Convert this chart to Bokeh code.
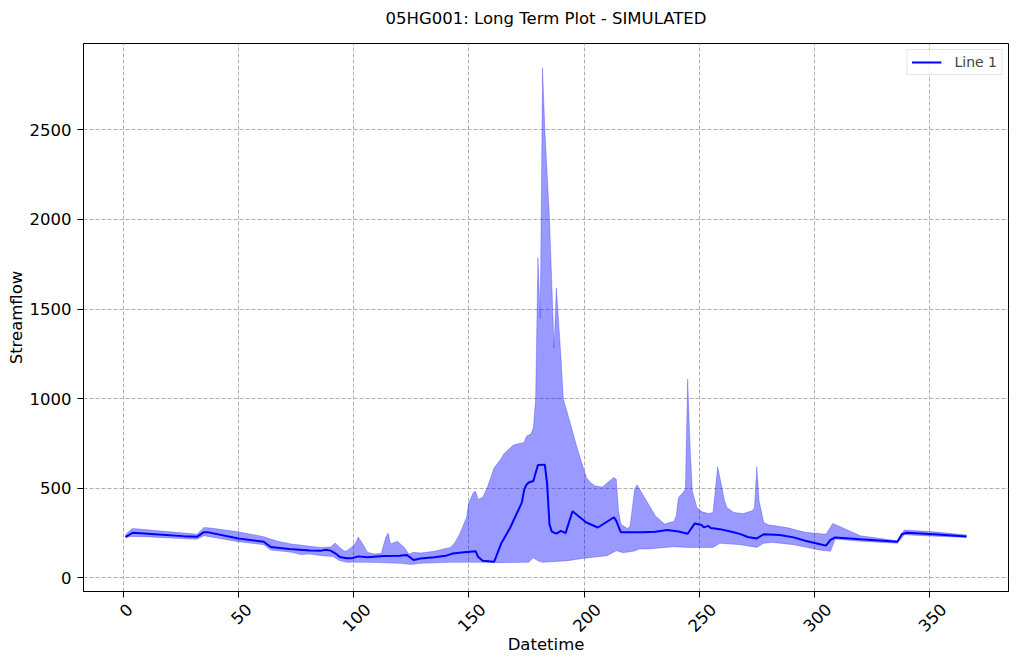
import math
from bokeh.plotting import figure
from bokeh.models import (Range1d, SingleIntervalTicker, FixedTicker, Legend, LegendItem,
                          LinearAxis, CustomJSTickFormatter, Title)
from bokeh.embed import file_html
from bokeh.resources import INLINE

# ---- data ----
mid_day = [1, 2, 4, 9, 17, 26, 32, 35, 37, 50, 61, 64, 72, 81, 86, 88, 90, 92, 94, 97, 99, 102, 106, 113,
           120, 123, 125, 126, 129, 135, 140, 143, 148, 153, 154, 156, 161, 164, 168, 173, 174, 175, 176,
           178, 180, 183, 184, 185, 186, 188, 190, 192, 195, 201, 206, 212, 213, 214, 216, 225, 231, 236,
           241, 245, 248, 251, 252, 254, 255, 259, 264, 268, 271, 275, 278, 285, 291, 296, 302, 305, 307,
           309, 320, 336, 338, 340, 352, 366]
mid_val = [229, 235, 252, 248, 241, 233, 229, 255, 254, 220, 202, 172, 161, 153, 152, 157, 152, 137, 117, 109,
           109, 120, 115, 122, 124, 128, 110, 100, 108, 115, 123, 136, 143, 148, 118, 95, 90, 190, 281, 420,
           490, 520, 532, 541, 630, 632, 523, 300, 258, 247, 262, 250, 372, 309, 281, 330, 338, 318, 254,
           254, 257, 267, 259, 246, 303, 295, 282, 290, 278, 272, 257, 244, 228, 220, 243, 239, 226, 207,
           189, 180, 212, 226, 215, 202, 245, 252, 244, 231]

hi_day = [1, 2, 4, 9, 23, 32, 35, 38, 50, 61, 67, 73, 77, 81, 86, 90, 92, 94, 96, 97, 99, 101, 102, 104, 106,
          109, 112, 114, 115, 116, 119, 122, 124, 126, 129, 135, 139, 142, 144, 146, 149, 150, 152, 153, 154,
          156, 158, 161, 164, 165, 169, 170, 174, 175, 177, 178, 179, 180, 181, 182, 183, 185, 187, 188, 190,
          191, 193, 197, 201, 203, 205, 208, 211, 213, 214, 215, 216, 217, 219, 220, 222, 223, 225, 231, 235,
          237, 239, 240, 241, 243, 244, 245, 246, 247, 249, 251, 254, 256, 258, 259, 261, 262, 265, 269, 273,
          274, 275, 276, 278, 280, 288, 296, 302, 305, 308, 320, 336, 339, 352, 366]
hi_val = [239, 254, 276, 270, 254, 244, 281, 278, 257, 230, 204, 189, 183, 176, 170, 172, 194, 170, 148, 152,
          170, 198, 228, 189, 143, 133, 137, 228, 250, 189, 204, 170, 133, 143, 139, 148, 161, 170, 198, 244,
          337, 420, 476, 482, 439, 448, 504, 615, 665, 689, 738, 744, 756, 790, 804, 837, 1000, 1786, 1450,
          2846, 2500, 2010, 1282, 1618, 1230, 1000, 911, 726, 560, 530, 513, 507, 541, 560, 550, 374, 300,
          291, 275, 291, 494, 519, 476, 346, 300, 309, 315, 346, 448, 476, 494, 1110, 744, 485, 393, 370,
          359, 365, 619, 559, 430, 393, 365, 359, 374, 393, 620, 430, 309, 296, 281, 254, 248, 244, 304,
          235, 207, 267, 257, 239]

lo_day = [1, 3, 9, 32, 35, 50, 61, 64, 73, 77, 81, 86, 91, 94, 97, 106, 120, 125, 129, 142, 155, 164, 176,
          178, 180, 182, 193, 198, 204, 210, 214, 217, 222, 224, 228, 239, 245, 256, 259, 268, 275, 278, 282,
          291, 302, 307, 309, 320, 336, 339, 352, 366]
lo_val = [226, 231, 230, 215, 235, 202, 185, 156, 143, 130, 133, 124, 119, 96, 87, 87, 81, 74, 81, 87, 87, 85,
          87, 112, 96, 87, 96, 106, 115, 124, 152, 140, 150, 161, 161, 174, 170, 170, 193, 185, 170, 193, 198,
          185, 156, 148, 217, 204, 193, 241, 233, 226]

x_ticks = [0, 50, 100, 150, 200, 250, 300, 350]
x_tick_labels = ["0", "50", "100", "150", "200", "250", "300", "350"]

title_text = "05HG001: Long Term Plot - SIMULATED"
x_label = "Datetime"
y_label = "Streamflow"
legend_label = "Line 1"

FONT = "DejaVu Sans"
FS = 16.5

W, H = 1017, 662
B_LEFT, B_RIGHT, B_TOP, B_BOTTOM = 83, 9, 43, 71
X0, X1 = -17.25, 384.25
Y0, Y1 = -76, 2982

p = figure(width=W, height=H, output_backend="svg", toolbar_location=None,
           x_range=Range1d(X0, X1), y_range=Range1d(Y0, Y1),
           min_border_left=B_LEFT, min_border_right=B_RIGHT, min_border_top=B_TOP, min_border_bottom=B_BOTTOM,
           background_fill_color="white", border_fill_color="white")

# real title (outermost), with a small spacer panel between it and the frame
p.title.text = title_text
p.title.align = "center"
p.title.text_font = FONT
p.title.text_font_size = f"{FS}px"
p.title.text_font_style = "normal"
p.title.text_color = "black"
p.title.standoff = 10
p.add_layout(Title(text=" ", text_font_size="8px", standoff=0), "above")

# band
band_x = hi_day + lo_day[::-1]
band_y = hi_val + lo_val[::-1]
p.patch(band_x, band_y, fill_color="blue", fill_alpha=0.4, line_color="blue", line_alpha=0.25, line_width=1)

line = p.line(mid_day, mid_val, line_color="blue", line_width=2)

legend = Legend(items=[LegendItem(label=legend_label, renderers=[line])], location="top_right")
legend.label_text_font = FONT
legend.label_text_font_size = "14px"
legend.border_line_color = "#cccccc"
legend.border_line_width = 1
legend.background_fill_alpha = 0.8
legend.padding = 4
legend.spacing = 0
legend.margin = 6
legend.glyph_width = 30
legend.glyph_height = 12
legend.label_height = 12
legend.label_standoff = 13
p.add_layout(legend)

p.outline_line_color = "black"
p.outline_line_width = 1
p.outline_line_alpha = 1

p.xaxis.ticker = SingleIntervalTicker(interval=50, num_minor_ticks=0)
p.yaxis.ticker = SingleIntervalTicker(interval=500, num_minor_ticks=0)
for ax in (p.xaxis[0], p.yaxis[0]):
    ax.axis_line_color = "black"
    ax.major_tick_line_color = "black"
    ax.major_tick_out = 6
    ax.major_tick_in = 0
    ax.minor_tick_line_color = None
    ax.major_label_text_font = FONT
    ax.major_label_text_font_size = f"{FS}px"
    ax.major_label_text_color = "black"
    ax.axis_label_text_font = FONT
    ax.axis_label_text_font_size = f"{FS}px"
    ax.axis_label_text_font_style = "normal"
    ax.axis_label_text_color = "black"
p.yaxis.axis_label = y_label
p.yaxis.axis_label_standoff = 1
p.yaxis.major_label_standoff = 6

# main x axis: ticks only
p.xaxis.major_label_overrides = {v: "" for v in range(-50, 451, 50)}
p.xaxis.major_label_standoff = 0

# second x axis below: rotated labels, nudged so each is centred under its tick (matplotlib style)
px_per_day = (W - B_LEFT - B_RIGHT) / (X1 - X0)
label_pos = []
for t, lab in zip(x_ticks, x_tick_labels):
    w = 0.636 * FS * len(lab)
    shift_px = (w + 8.0) / (2 * math.sqrt(2))
    label_pos.append(t + shift_px / px_per_day)
lab_axis = LinearAxis(ticker=FixedTicker(ticks=label_pos),
                      formatter=CustomJSTickFormatter(args=dict(labels=x_tick_labels),
                                                      code="return labels[index];"))
lab_axis.axis_line_color = None
lab_axis.major_tick_line_color = None
lab_axis.minor_tick_line_color = None
lab_axis.major_tick_out = 0
lab_axis.major_tick_in = 0
lab_axis.major_label_standoff = 9
lab_axis.major_label_orientation = math.pi / 4
lab_axis.major_label_text_font = FONT
lab_axis.major_label_text_font_size = f"{FS}px"
lab_axis.major_label_text_color = "black"
lab_axis.axis_label = x_label
lab_axis.axis_label_text_font = FONT
lab_axis.axis_label_text_font_size = f"{FS}px"
lab_axis.axis_label_text_font_style = "normal"
lab_axis.axis_label_text_color = "black"
lab_axis.axis_label_standoff = -5
p.add_layout(lab_axis, "below")

p.grid.grid_line_color = "#b0b0b0"
p.grid.grid_line_dash = "4 2"
p.grid.grid_line_width = 1

open("out.html", "w").write(file_html(p, INLINE))
